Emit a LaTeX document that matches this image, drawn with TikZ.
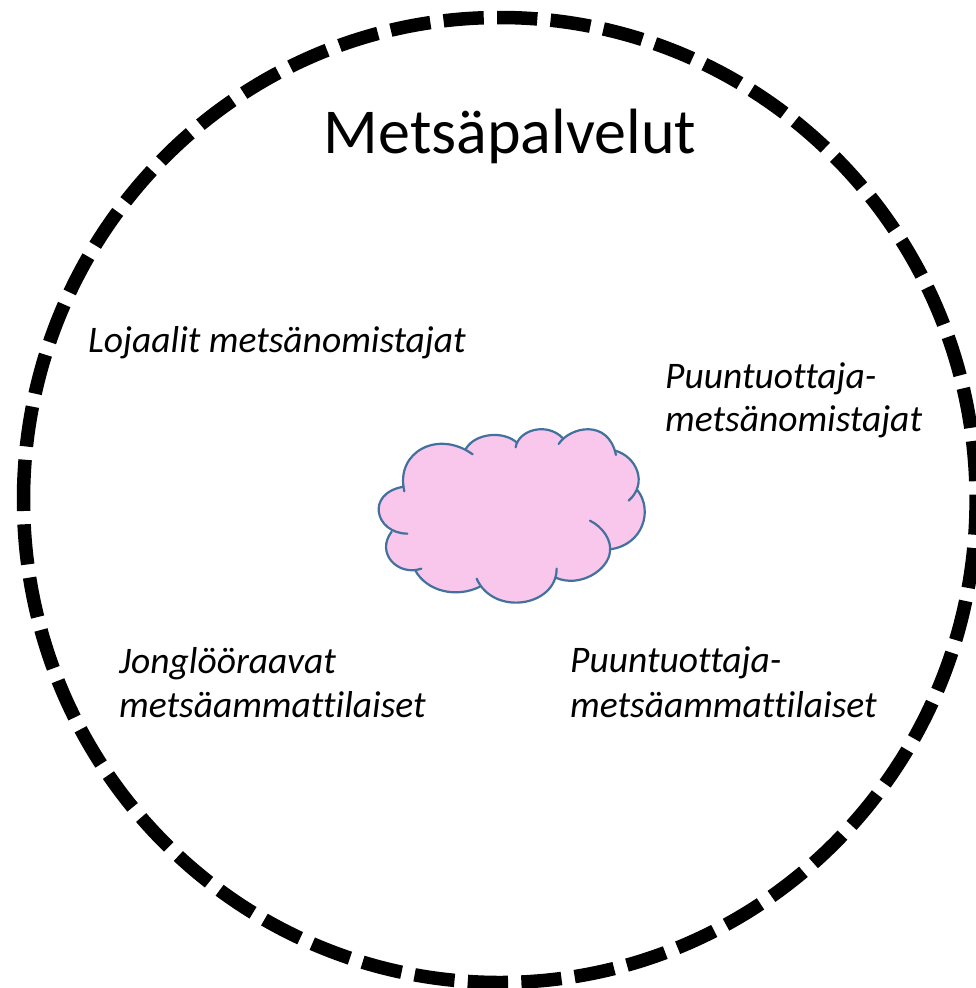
\documentclass[tikz,border=0pt]{standalone}
\usepackage{fontspec}
\setmainfont[Ligatures=NoCommon]{Carlito}
\definecolor{cloudpink}{HTML}{F9C6EC}
\definecolor{cloudblue}{HTML}{41719C}
\tikzset{
  ring/.style={draw=black,line width=13.5pt,dash pattern=on 40.3pt off 13.3pt},
  cloudline/.style={draw=cloudblue,line width=2.2pt,line cap=round},
  lab/.style={anchor=base west,font=\fontsize{37.5}{45}\selectfont\itshape,inner sep=0pt},
  title/.style={anchor=base,font=\fontsize{64}{70}\selectfont,inner sep=0pt}
}
\newcommand{\LobeA}{(133,244) .. controls (105,125) and (235,58) .. (338,133)}
\newcommand{\LobeB}{(318,116) .. controls (345,70) and (430,60) .. (472,99)}
\newcommand{\LobeC}{(467,112) .. controls (475,60) and (560,35) .. (608,84)}
\newcommand{\LobeD}{(596,102) .. controls (630,50) and (745,25) .. (768,135)}
\newcommand{\LobeE}{(766,122) .. controls (830,140) and (865,220) .. (806,272)}
\newcommand{\LobeF}{(832,240) .. controls (880,300) and (850,405) .. (750,418)}
\newcommand{\LobeG}{(690,332) .. controls (730,352) and (755,392) .. (750,425) .. controls (745,480) and (660,535) .. (587,503)}
\newcommand{\LobeH}{(590,476) .. controls (590,590) and (400,620) .. (350,506)}
\newcommand{\LobeI}{(360,530) .. controls (290,565) and (200,545) .. (165,480)}
\newcommand{\LobeJ}{(184,476) .. controls (115,500) and (45,430) .. (95,365)}
\newcommand{\LobeK}{(142,371) .. controls (45,370) and (15,250) .. (131,230)}
\begin{document}
\begin{tikzpicture}[x=1pt,y=-1pt]
\useasboundingbox (0,0) rectangle (976,988);
\draw[ring] (23.5,500) arc [start angle=180,end angle=540,x radius=476.3,y radius=482.5];
\node[title] (t) at (510,153) {Metsäpalvelut};
\node[lab] (a) at (88,352) {Lojaalit metsänomistajat};
\node[lab] (b) at (665,388) {Puuntuottaja-};
\node[lab] (b2) at (665,431) {metsänomistajat};
\node[lab] (c) at (119,673) {Jonglööraavat};
\node[lab] (c2) at (119,717) {metsäammattilaiset};
\node[lab] (d) at (570,672) {Puuntuottaja-};
\node[lab] (d2) at (570,717) {metsäammattilaiset};
\begin{scope}[shift={(360,410)},x=0.3333pt,y=-0.3333pt]
\fill[cloudpink] \LobeA -- \LobeB -- \LobeC -- \LobeD -- \LobeE -- \LobeF -- (750,425) .. controls (745,480) and (660,535) .. (587,503) -- \LobeH -- \LobeI -- \LobeJ -- \LobeK -- cycle;
\fill[cloudpink] (300,200) rectangle (600,450);
\foreach \lobe in {\LobeA,\LobeB,\LobeC,\LobeD,\LobeE,\LobeF,\LobeG,\LobeH,\LobeI,\LobeJ,\LobeK}{
  \draw[cloudline] \lobe;
}
\end{scope}
\end{tikzpicture}
\end{document}
